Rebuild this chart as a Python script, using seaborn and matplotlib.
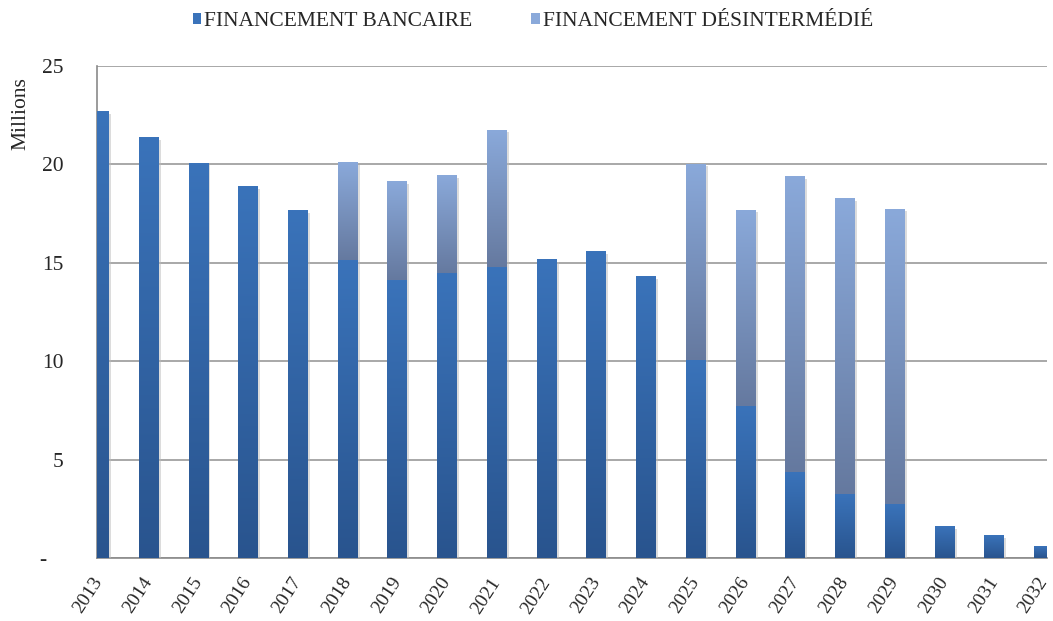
import numpy as np
import pandas as pd
import matplotlib
matplotlib.use("Agg")
import matplotlib.pyplot as plt
import seaborn as sns
from matplotlib.colors import LinearSegmentedColormap
from matplotlib.patches import Rectangle
import matplotlib.patheffects as pe

years = [str(y) for y in range(2013, 2033)]
bancaire = [22.65, 21.35, 20.05, 18.86, 17.64, 15.08, 14.11, 14.43, 14.76, 15.15,
            15.54, 14.30, 10.02, 7.70, 4.36, 3.24, 2.72, 1.58, 1.12, 0.59]
desintermedie = [0, 0, 0, 0, 0, 5, 5, 5, 7, 0, 0, 0, 10, 10, 15, 15, 15, 0, 0, 0]
series_labels = ["FINANCEMENT BANCAIRE", "FINANCEMENT DÉSINTERMÉDIÉ"]
y_ticks = [0, 5, 10, 15, 20, 25]
y_ticklabels = ["-   ", "5", "10", "15", "20", "25"]

df = pd.DataFrame({"annee": years, "bancaire": bancaire, "desint": desintermedie})
df["total"] = df["bancaire"] + df["desint"]

sns.set_theme(style="white")
plt.rcParams["font.family"] = ["Liberation Serif", "DejaVu Serif"]

fig = plt.figure(figsize=(10.53, 6.21), dpi=100)
ax = fig.add_axes([0.0921, 0.101, 0.9022, 0.793])

bank_top, bank_bot = "#3a73ba", "#29548e"
des_top, des_bot = "#8aa9da", "#65799f"

sns.barplot(data=df, x="annee", y="total", color=des_top, width=0.4,
            saturation=1, ax=ax, zorder=3)
n_total = len(ax.patches)
sns.barplot(data=df, x="annee", y="bancaire", color=bank_top, width=0.4,
            saturation=1, ax=ax, zorder=4)

# gradient fills per segment
cm_bank = LinearSegmentedColormap.from_list("bank", [bank_bot, bank_top])
cm_des = LinearSegmentedColormap.from_list("des", [des_bot, des_top])
grad = np.linspace(0, 1, 256).reshape(-1, 1)
for i, p in enumerate(list(ax.patches)):
    x, w = p.get_x(), p.get_width()
    if i < n_total:
        j = i
        y0, y1 = bancaire[j], bancaire[j] + desintermedie[j]
        cmap, z = cm_des, 3
    else:
        j = i - n_total
        y0, y1 = 0, bancaire[j]
        cmap, z = cm_bank, 4
    p.set_visible(False)
    if y1 - y0 <= 0:
        continue
    sh = Rectangle((x, y0), w, y1 - y0, facecolor="#000000", alpha=0.0, zorder=z)
    ax.add_patch(sh)
    sh.set_path_effects([pe.SimplePatchShadow(offset=(1.5, -1.5), shadow_rgbFace="#bbbbbb", alpha=0.5)])
    ax.imshow(grad, cmap=cmap, extent=(x, x + w, y0, y1), aspect="auto",
              origin="lower", zorder=z + 0.1, interpolation="bilinear")

ax.set_xlim(-0.04, 19.06)
ax.set_ylim(0, 25)
ax.set_aspect("auto")

ax.set_yticks(y_ticks)
ax.set_yticklabels(y_ticklabels, fontsize=15.5)
ax.yaxis.grid(True, color="#9a9a9a", linewidth=1.2, zorder=0)
ax.set_axisbelow(True)

ax.set_xticks(range(len(years)))
ax.set_xticklabels(years, rotation=57, ha="right", va="center",
                   rotation_mode="anchor", fontsize=14)
ax.tick_params(axis="x", which="major", length=0, pad=15)
ax.set_xticks(np.arange(0.5, 19.5, 1), minor=True)
ax.tick_params(axis="x", which="minor", length=6, color="#8a8a8a", width=1.2, direction="out")
ax.tick_params(axis="y", length=5, color="#8a8a8a", width=1.2, direction="out", pad=19)

for s in ["top", "right"]:
    ax.spines[s].set_visible(False)
for s in ["left", "bottom"]:
    ax.spines[s].set_color("#8a8a8a")
    ax.spines[s].set_linewidth(1.2)

ax.set_xlabel("")
ax.set_ylabel("Millions", fontsize=15.5)
ax.yaxis.set_label_coords(-0.070, 0.904)

handles = [Rectangle((0, 0), 1, 1, facecolor=bank_top, edgecolor="none"),
           Rectangle((0, 0), 1, 1, facecolor=des_top, edgecolor="none")]
fig.legend(handles, series_labels, loc="upper center", bbox_to_anchor=(0.506, 1.012),
           ncol=2, frameon=False, fontsize=15.5, handlelength=0.4, handleheight=0.4,
           handletextpad=0.12, columnspacing=2.75)

fig.savefig("out.png", dpi=100)
